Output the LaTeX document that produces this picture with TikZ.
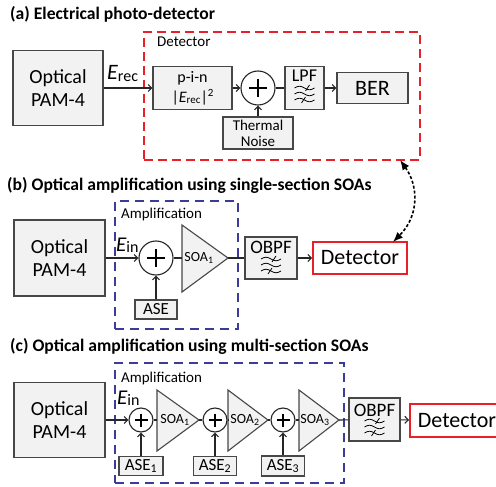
\documentclass[tikz,border=0pt]{standalone}
\usepackage{fontspec}
\setmainfont{Carlito}
\usetikzlibrary{arrows.meta,calc}
\definecolor{redD}{HTML}{E8202A}
\definecolor{blueD}{HTML}{3C3C96}
\definecolor{edgeC}{HTML}{474747}
\definecolor{boxF}{HTML}{F2F2F2}
\newcommand{\myfs}[1]{\fontsize{#1}{#1}\selectfont}
\newcommand{\Erec}{{\myfs{22}\itshape E}\raisebox{-1.5pt}{\myfs{16}rec}}
\newcommand{\Ein}{{\myfs{21}\itshape E}\raisebox{-1.5pt}{\myfs{16}in}}
\newcommand{\Erecsq}{|{\itshape E}\raisebox{-1.5pt}{\myfs{11}rec}|\raisebox{6pt}{\myfs{11}2}}
\newcommand{\plusin}[2]{\draw[line width=2.3pt] ($(#1)+(-#2,0)$) -- ($(#1)+(#2,0)$) ($(#1)+(0,-#2)$) -- ($(#1)+(0,#2)$);}
\tikzset{
  fbox/.style={draw=edgeC, fill=boxF, line width=1.1pt, rectangle, inner sep=0pt},
  redbox/.style={draw=redD, fill=white, line width=1.8pt, rectangle, inner sep=0pt},
  sumc/.style={draw=black!85, fill=white, circle, line width=1.1pt, inner sep=0pt},
  tri/.style={draw=edgeC, fill=boxF, line width=1.1pt, line join=miter},
  conn/.style={draw=black!85, line width=1.1pt},
  arr/.style={conn, -{Straight Barb[length=3.5pt,width=7pt]}},
  reddash/.style={draw=redD, line width=2pt, dash pattern=on 9pt off 5pt, rectangle, inner sep=0pt},
  bluedash/.style={draw=blueD, line width=2pt, dash pattern=on 9pt off 6pt, rectangle, inner sep=0pt},
  dblarr/.style={draw=black, line width=1.6pt, dash pattern=on 3pt off 2pt, {Latex[length=10pt,width=8pt]}-{Latex[length=10pt,width=8pt]}},
  title/.style={font=\bfseries\myfs{17.6}, inner sep=0pt, anchor=base west},
  lbl/.style={font=\myfs{15}, inner sep=0pt, anchor=base west},
  soat/.style={font=\myfs{14}, inner sep=0pt},
  pamfont/.style={font=\fontsize{20}{23}\selectfont, align=center},
  filt/.pic={
    \foreach \dy in {-6,0,6}{
      \draw[line width=0.8pt] (-10,\dy) sin (-5,{\dy-1.8}) cos (0,\dy) sin (5,{\dy+1.8}) cos (10,\dy);
    }
    \draw[line width=0.8pt] (1,-3) -- (5,-9);
    \draw[line width=0.8pt] (-3,9) -- (1,3);
  }
}
\begin{document}
\begin{tikzpicture}[x=1pt,y=-1pt]
\useasboundingbox (0,0) rectangle (496,487);
\clip (0,0) rectangle (496,487);

% ---------- (a) ----------
\node[title] (ta) at (10,19.5) {(a) Electrical photo-detector};
\node[reddash, minimum width=276, minimum height=128] (detA) at (282,96) {};
\node[lbl] (detAl) at (157,47) {Detector};
\node[fbox, pamfont, minimum width=90, minimum height=75] (pamA) at (58,88) {Optical\\PAM-4};
\node[anchor=base west, inner sep=0pt] (erec) at (107,80) {\Erec};
\node[fbox, minimum width=79, minimum height=43, align=center, font=\fontsize{16}{20}\selectfont] (pin) at (192.5,88) {p-i-n\\\Erecsq};
\node[sumc, minimum size=34] (sumA) at (258,88) {};
\plusin{sumA}{9}
\node[fbox, minimum width=70, minimum height=32, align=center, font=\fontsize{15}{16}\selectfont] (therm) at (258,133) {Thermal\\Noise};
\node[fbox, minimum width=39, minimum height=43] (lpf) at (304.5,88) {};
\node[font=\myfs{18}, anchor=base, inner sep=0pt] (lpft) at (304.5,82) {LPF};
\pic at (304.5,94) {filt};
\node[fbox, minimum width=71, minimum height=31, font=\myfs{22}] (ber) at (372.5,88) {BER};
\draw[arr] (pamA.east) -- (pin.west);
\draw[arr] (pin) -- (sumA);
\draw[conn] (sumA) -- (lpf);
\draw[arr] (lpf) -- (ber);
\draw[arr] (therm) -- (sumA);

% ---------- (b) ----------
\node[title] (tb) at (7,190) {(b) Optical amplification using single-section SOAs};
\node[bluedash, minimum width=123, minimum height=128] (ampB) at (176.5,265) {};
\node[lbl] (ampBl) at (121,218) {Amplification};
\node[fbox, pamfont, minimum width=91, minimum height=76] (pamB) at (59.5,258) {Optical\\PAM-4};
\node[anchor=base west, inner sep=0pt] (einB) at (116,251) {\Ein};
\node[sumc, minimum size=34] (sumB) at (156,258) {};
\plusin{sumB}{9}
\node[fbox, minimum width=42, minimum height=19, font=\myfs{17}] (aseB) at (156,309.5) {ASE};
\draw[tri] (182,225) -- (228,258) -- (182,292) -- cycle;
\coordinate (soaBi) at (182,258);
\coordinate (soaBo) at (228,258);
\node[soat] (soaBt) at (199,258) {SOA\textsubscript{1}};
\node[fbox, minimum width=52, minimum height=42] (obpfB) at (271,258) {};
\node[font=\myfs{19}, anchor=base, inner sep=0pt] (obpfBt) at (271,253) {OBPF};
\pic at (271,265) {filt};
\node[redbox, minimum width=94, minimum height=32, font=\myfs{22}] (detB) at (360,258) {Detector};
\draw[arr] (pamB) -- (sumB);
\draw[arr] (aseB) -- (sumB);
\draw[conn] (sumB) -- (soaBi);
\draw[conn] (soaBo) -- (obpfB);
\draw[arr] (obpfB) -- (detB);

% dashed link
\coordinate (da) at (400,160);
\coordinate (db) at (393,242);
\draw[dblarr] (da) .. controls (418,185) and (420,215) .. (db);

% ---------- (c) ----------
\node[title] (tc) at (10,351) {(c) Optical amplification using multi-section SOAs};
\node[bluedash, minimum width=229, minimum height=120] (ampC) at (229.5,423) {};
\node[lbl] (ampCl) at (121,382) {Amplification};
\node[fbox, pamfont, minimum width=91, minimum height=75] (pamC) at (59.5,420) {Optical\\PAM-4};
\node[anchor=base west, inner sep=0pt] (einC) at (117,404) {\Ein};
\node[sumc, minimum size=24] (sumC1) at (141,420) {};
\node[sumc, minimum size=24] (sumC2) at (215,420) {};
\node[sumc, minimum size=24] (sumC3) at (283,420) {};
\plusin{sumC1}{6.5}
\plusin{sumC2}{6.5}
\plusin{sumC3}{6.5}
\draw[tri] (157,390) -- (199,420) -- (157,451) -- cycle;
\draw[tri] (228,390) -- (268,420) -- (228,451) -- cycle;
\draw[tri] (299,390) -- (339,420) -- (299,451) -- cycle;
\coordinate (s1i) at (157,420); \coordinate (s1o) at (199,420);
\coordinate (s2i) at (228,420); \coordinate (s2o) at (268,420);
\coordinate (s3i) at (299,420); \coordinate (s3o) at (339,420);
\node[soat] (s1t) at (175,420) {SOA\textsubscript{1}};
\node[soat] (s2t) at (245,420) {SOA\textsubscript{2}};
\node[soat] (s3t) at (315,420) {SOA\textsubscript{3}};
\node[fbox, minimum width=44, minimum height=19, font=\myfs{17}] (ase1) at (141,466) {ASE\textsubscript{1}};
\node[fbox, minimum width=43, minimum height=19, font=\myfs{17}] (ase2) at (215,466) {ASE\textsubscript{2}};
\node[fbox, minimum width=43, minimum height=20, font=\myfs{17}] (ase3) at (283,466) {ASE\textsubscript{3}};
\node[fbox, minimum width=51, minimum height=43] (obpfC) at (374.5,419.5) {};
\node[font=\myfs{19}, anchor=base, inner sep=0pt] (obpfCt) at (374.5,416) {OBPF};
\pic at (374.5,427) {filt};
\node[redbox, minimum width=94, minimum height=33, font=\myfs{22}] (detC) at (457,420.5) {Detector};
\draw[arr] (pamC) -- (sumC1);
\draw[conn] (sumC1) -- (s1i);
\draw[conn] (s1o) -- (sumC2);
\draw[conn] (sumC2) -- (s2i);
\draw[conn] (s2o) -- (sumC3);
\draw[conn] (sumC3) -- (s3i);
\draw[conn] (s3o) -- (obpfC);
\draw[arr] (obpfC) -- (detC);
\draw[arr] (ase1) -- (sumC1);
\draw[arr] (ase2) -- (sumC2);
\draw[arr] (ase3) -- (sumC3);
\end{tikzpicture}
\end{document}
